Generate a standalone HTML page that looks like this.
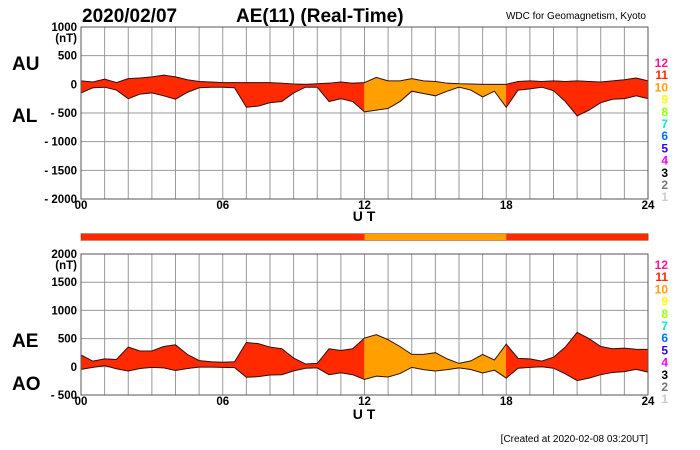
<!DOCTYPE html>
<html><head><meta charset="utf-8"><style>
body{margin:0;background:#fff;}
svg{display:block;font-family:"Liberation Sans",sans-serif;}
</style></head><body>
<svg id="c" width="700" height="450" viewBox="0 0 700 450">
<text x="82" y="22" font-size="19" font-weight="bold">2020/02/07</text>
<text x="236" y="22" font-size="19" font-weight="bold">AE(11) (Real-Time)</text>
<text x="646" y="19" font-size="10" text-anchor="end">WDC for Geomagnetism, Kyoto</text>
<text x="12" y="70" font-size="19" font-weight="bold">AU</text>
<text x="12" y="122" font-size="19" font-weight="bold">AL</text>
<text x="12" y="347" font-size="19" font-weight="bold">AE</text>
<text x="12" y="390" font-size="19" font-weight="bold">AO</text>
<text x="364" y="221" font-size="14" font-weight="bold" text-anchor="middle">U T</text>
<text x="364" y="419" font-size="14" font-weight="bold" text-anchor="middle">U T</text>
<text x="648" y="442" font-size="10" text-anchor="end">[Created at 2020-02-08 03:20UT]</text>
<g id="top"></g>
<g id="bot"></g>
<g id="bar"></g>
<g id="leg"></g>
</svg>
<script>
// half-hourly values, 00:00 .. 24:00
const hours = [0,0.5,1,1.5,2,2.5,3,3.5,4,4.5,5,5.5,6,6.5,7,7.5,8,8.5,9,9.5,10,10.5,11,11.5,12,12.5,13,13.5,14,14.5,15,15.5,16,16.5,17,17.5,18,18.5,19,19.5,20,20.5,21,21.5,22,22.5,23,23.5,24];
const au = [60,40,90,30,100,110,130,160,130,80,50,40,30,30,30,30,30,20,5,0,10,20,40,20,30,120,60,60,100,60,50,20,10,5,0,0,0,50,60,50,60,50,60,50,40,60,80,110,60];
const al = [-150,-60,-50,-100,-250,-170,-150,-200,-260,-140,-60,-50,-50,-60,-400,-380,-320,-300,-150,-50,-50,-300,-250,-300,-480,-450,-420,-300,-120,-160,-200,-120,-50,-100,-220,-120,-400,-100,-80,-50,-110,-300,-550,-450,-320,-260,-250,-200,-250];
const stations = [11,11,11,11,11,11,11,11,11,11,11,11,11,11,11,11,11,11,11,11,11,11,11,11,10,10,10,10,10,10,10,10,10,10,10,10,11,11,11,11,11,11,11,11,11,11,11,11,11];
const topTicks = [1000,500,0,-500,-1000,-1500,-2000];
const botTicks = [2000,1500,1000,500,0,-500];
const xTickLabels = ["00","06","12","18","24"];
const legendNums = [12,11,10,9,8,7,6,5,4,3,2,1];
const legendColors = ["#ff1493","#ff2a00","#ffa000","#ffff00","#9aff00","#00f0d0","#0070ff","#3000ff","#ff00ff","#000000","#777777","#cccccc"];
const fillColor = {11:"#ff2a00",10:"#ffa000"};

const NS="http://www.w3.org/2000/svg";
const X0=81,X1=648;
const xs=h=>X0+(X1-X0)*h/24;
function mk(tag,attrs,parent){const e=document.createElementNS(NS,tag);for(const k in attrs)e.setAttribute(k,attrs[k]);parent.appendChild(e);return e;}

function panel(g,top,bottom,vmax,vmin,ticks,upper,lower,name){
  const ys=v=>top+(vmax-v)/(vmax-vmin)*(bottom-top);
  for(let h=0;h<=24;h++){const l=mk('line',{x1:xs(h),x2:xs(h),y1:top,y2:bottom,stroke:'#999','stroke-width':1},g);
    
    }
  ticks.forEach(t=>{const l=mk('line',{x1:X0,x2:X1,y1:ys(t),y2:ys(t),stroke:'#999','stroke-width':1},g);
    
    
    const s=t<0?'- '+(-t):String(t);
    const tx=mk('text',{x:X0-4,y:ys(t)+4,'font-size':11.5,'font-weight':'bold','text-anchor':'end'},g);tx.textContent=s;
    
    });
  const u=mk('text',{x:X0-4,y:ys(ticks[0])+15,'font-size':11.5,'font-weight':'bold','text-anchor':'end'},g);u.textContent='(nT)';
  
  
  for(let i=0;i<hours.length-1;i++){
    const p=[[xs(hours[i]),ys(upper[i])],[xs(hours[i+1]),ys(upper[i+1])],[xs(hours[i+1]),ys(lower[i+1])],[xs(hours[i]),ys(lower[i])]];
    const q=mk('polygon',{points:p.map(a=>a.join(',')).join(' '),fill:fillColor[stations[i]],stroke:fillColor[stations[i]],'stroke-width':0.6},g);
    
    
  }
  [upper,lower].forEach((arr,k)=>{const pl=mk('polyline',{points:hours.map((h,i)=>xs(h)+','+ys(arr[i])).join(' '),fill:'none',stroke:'#301010','stroke-width':1},g);
    
    });
  mk('rect',{x:X0,y:top,width:X1-X0,height:bottom-top,fill:'none',stroke:'#555','stroke-width':1},g);
  xTickLabels.forEach((t,i)=>{const tx=mk('text',{x:xs(i*6),y:bottom+10,'font-size':11.5,'font-weight':'bold','text-anchor':'middle'},g);tx.textContent=t;
    
    });
}
const ae=au.map((v,i)=>v-al[i]);
const ao=au.map((v,i)=>(v+al[i])/2);
panel(document.getElementById('top'),27,199,1000,-2000,topTicks,au,al,'au-al');
panel(document.getElementById('bot'),254,395,2000,-500,botTicks,ae,ao,'ae-ao');

const bar=document.getElementById('bar');
for(let i=0;i<hours.length-1;i++){const r=mk('rect',{x:xs(hours[i]),y:234,width:xs(hours[i+1])-xs(hours[i])+0.5,height:6,fill:fillColor[stations[i]]},bar);
  
  }
mk('rect',{x:X0,y:233.5,width:X1-X0,height:7,fill:'none',stroke:'#a04020','stroke-width':0.6},bar);
const leg=document.getElementById('leg');
legendNums.forEach((n,i)=>{[[62,12.2],[264,12.2]].forEach(([y0,st])=>{const t=mk('text',{x:668,y:y0+5+i*st,'font-size':12,'font-weight':'bold','text-anchor':'end',fill:legendColors[i]},leg);t.textContent=n;
  
  });});
</script>
</body></html>
